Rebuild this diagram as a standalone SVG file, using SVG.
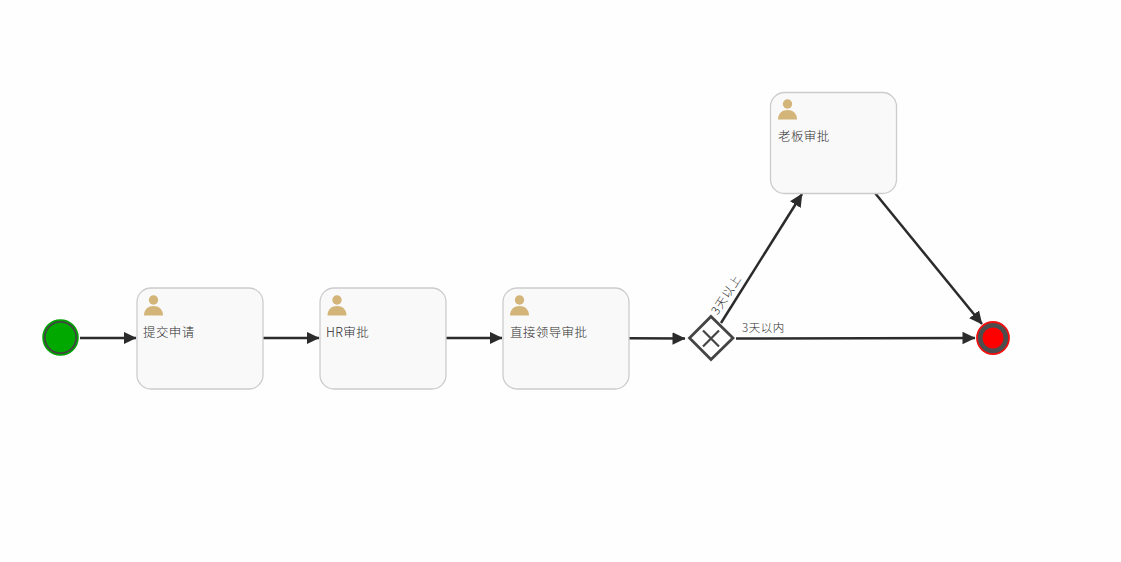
<svg xmlns="http://www.w3.org/2000/svg" width="1121" height="562" viewBox="0 0 1121 562">
<style>
.task{fill:#f9f9f9;stroke:#cccccc;stroke-width:1.3}
.t{font-family:"Noto Sans CJK SC","Liberation Sans",sans-serif;font-size:12.5px;font-weight:300;fill:#2e2e2e;letter-spacing:.4px}
.l{font-family:"Noto Sans CJK SC","Liberation Sans",sans-serif;font-size:11.5px;font-weight:300;fill:#2e2e2e;letter-spacing:.5px}
.c{fill:none;stroke:#2b2b2b;stroke-width:2.500;marker-end:url(#a)}
.h{fill:#d3b57a}
</style>
<defs>
<marker id="a" markerUnits="userSpaceOnUse" markerWidth="14" markerHeight="13" refX="12.500" refY="6.500" orient="auto"><path d="M0 0.200L13 6.500L0 12.800Z" fill="#2b2b2b"/></marker>
<g id="u"><circle cx="0" cy="-5" r="4.700" class="h"/><path class="h" d="M-9.500 10.500C-9.500 4-5 1 0 1S9.500 4 9.500 10.500Z"/></g>
</defs>
<rect width="1121" height="562" fill="#fefefe"/>
<g id="connectors">
<path class="c" d="M80 338H136"/>
<path class="c" d="M263 338H319"/>
<path class="c" d="M446 338H502"/>
<path class="c" d="M629 338.300L685 338.500"/>
<path class="c" d="M721 323L802 194"/>
<path class="c" d="M736 338.500L975 338"/>
<path class="c" d="M875 193L982 324"/>
</g>
<g id="start"><circle cx="60.500" cy="337.500" r="17.500" fill="#00a800" stroke="#00a000" stroke-width="1.500"/><circle cx="60.500" cy="337.500" r="15.700" fill="none" stroke="#444" stroke-width="1.800"/></g>
<g id="task1"><rect class="task" x="137" y="288" width="126" height="101" rx="14"/><use href="#u" x="153.500" y="305"/><text class="t" x="143" y="337">提交申请</text></g>
<g id="task2"><rect class="task" x="320" y="288" width="126" height="101" rx="14"/><use href="#u" x="337" y="305"/><text class="t" x="326" y="337">HR审批</text></g>
<g id="task3"><rect class="task" x="503" y="288" width="126" height="101" rx="14"/><use href="#u" x="519.500" y="305"/><text class="t" x="510" y="337">直接领导审批</text></g>
<g id="task4"><rect class="task" x="770.500" y="92.500" width="126" height="101" rx="14"/><use href="#u" x="787.500" y="109"/><text class="t" x="778" y="141">老板审批</text></g>
<g id="gateway"><path d="M711 316.500L733 338L711 359.500L689.500 338Z" fill="#fefefe" stroke="#444" stroke-width="2.800"/><path d="M703 330.500L719 346.500M719 330.500L703 346.500" stroke="#444" stroke-width="2.200" fill="none"/></g>
<g id="end"><circle cx="993" cy="338" r="16" fill="#4d4d4d" stroke="#f01010" stroke-width="1.800"/><circle cx="993" cy="338" r="10.500" fill="#ff0000"/></g>
<text class="l" transform="translate(717.500 315.500) rotate(-57)" style="letter-spacing:1px">3天以上</text>
<text class="l" x="742" y="332">3天以内</text>
</svg>
